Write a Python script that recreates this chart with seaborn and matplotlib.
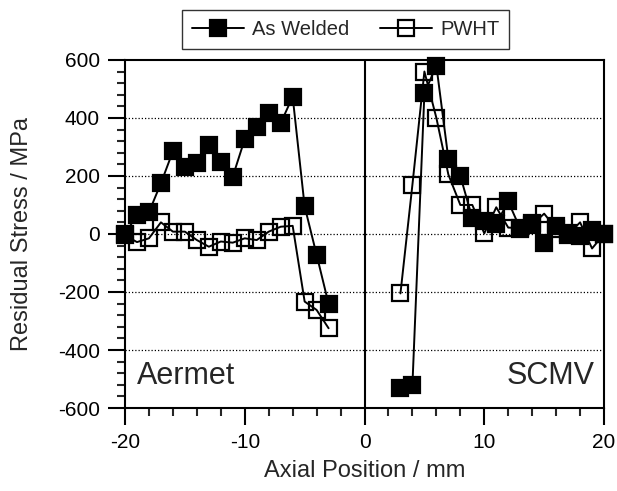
import matplotlib
matplotlib.use("Agg")
import matplotlib.pyplot as plt
from matplotlib.lines import Line2D
from matplotlib.ticker import MultipleLocator
import pandas as pd
import seaborn as sns

# Aermet side (negative axial positions)
aermet_x = [-20, -19, -18, -17, -16, -15, -14, -13, -12, -11, -10, -9, -8, -7, -6, -5, -4, -3]
aermet_welded = [0, 65, 75, 175, 285, 232, 244, 305, 249, 198, 327, 370, 416, 382, 473, 95, -72, -241]
aermet_pwht = [-5, -28, -15, 40, 8, 8, -21, -44, -26, -30, -15, -21, 8, 25, 28, -233, -262, -325]

# SCMV side (positive axial positions)
scmv_x = [3, 4, 5, 6, 7, 8, 9, 10, 11, 12, 13, 14, 15, 16, 17, 18, 19, 20]
scmv_welded = [-530, -520, 485, 580, 260, 200, 55, 45, 35, 112, 18, 38, -30, 28, 5, -8, 12, 0]
scmv_pwht = [-205, 170, 560, 400, 205, 100, 100, 2, 92, 22, 20, 32, 70, 18, -2, 40, -50, 0]

y_ticks = [-600, -400, -200, 0, 200, 400, 600]
x_ticks = [-20, -10, 0, 10, 20]
grid_levels = [-400, -200, 0, 200, 400]

sns.set_theme(style="ticks")
plt.rcParams["font.family"] = ["Liberation Sans", "DejaVu Sans"]
plt.rcParams["axes.unicode_minus"] = False

fig = plt.figure(figsize=(6.17, 4.91), dpi=100)
ax = fig.add_axes([0.2026, 0.169, 0.7764, 0.709])

for yv in grid_levels:
    ax.axhline(yv, color="black", lw=0.9, ls=(0, (1, 1.6)), zorder=1)
ax.axvline(0, color="black", lw=1.5, zorder=1)

series = [
    (aermet_x, aermet_welded, "black"),
    (scmv_x, scmv_welded, "black"),
    (aermet_x, aermet_pwht, "none"),
    (scmv_x, scmv_pwht, "none"),
]
for xs, ys, face in series:
    df = pd.DataFrame({"pos": xs, "stress": ys})
    sns.lineplot(data=df, x="pos", y="stress", ax=ax, color="black", lw=1.4,
                 marker="s", markersize=11.5, markerfacecolor=face,
                 markeredgecolor="black", markeredgewidth=1.6,
                 estimator=None, sort=False, zorder=3, clip_on=False)

ax.set_xlim(-20, 20)
ax.set_ylim(-600, 600)
ax.set_xticks(x_ticks)
ax.set_yticks(y_ticks)
ax.xaxis.set_minor_locator(MultipleLocator(2))
ax.yaxis.set_minor_locator(MultipleLocator(40))
ax.tick_params(which="major", direction="out", length=12, width=1.5, labelsize=15, pad=6, colors="black")
ax.tick_params(which="minor", direction="out", length=5.5, width=1.5)
ax.tick_params(top=False, right=False, which="both")
for sp in ax.spines.values():
    sp.set_linewidth(1.5)
    sp.set_color("black")

ax.set_xlabel("Axial Position / mm", fontsize=17, labelpad=6)
ax.set_ylabel("Residual Stress / MPa", fontsize=17, labelpad=18)

ax.text(0.025, 0.05, "Aermet", transform=ax.transAxes, fontsize=22, ha="left", va="bottom")
ax.text(0.981, 0.05, "SCMV", transform=ax.transAxes, fontsize=22, ha="right", va="bottom")

handles = [
    Line2D([], [], color="black", lw=1.4, marker="s", markersize=11,
           markerfacecolor="black", markeredgecolor="black", markeredgewidth=1.6),
    Line2D([], [], color="black", lw=1.4, marker="s", markersize=11,
           markerfacecolor="none", markeredgecolor="black", markeredgewidth=1.6),
]
leg = fig.legend(handles, ["As Welded", "PWHT"], loc="center", bbox_to_anchor=(0.56, 0.94),
                 ncol=2, fontsize=14.5, frameon=True, fancybox=False, edgecolor="black",
                 handlelength=2.6, columnspacing=1.5, handletextpad=0.4, borderpad=0.5)
leg.get_frame().set_linewidth(1.0)

fig.savefig("out.png", dpi=100)
